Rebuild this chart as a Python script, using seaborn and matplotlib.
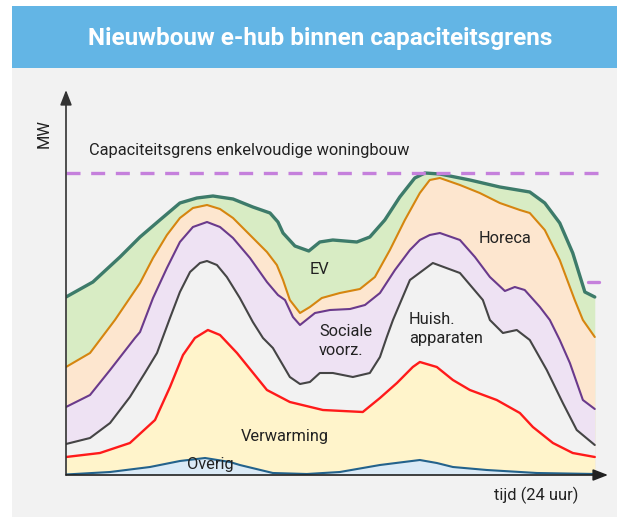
import matplotlib
matplotlib.use("Agg")
import matplotlib.pyplot as plt
import seaborn as sns
from matplotlib.patches import Rectangle

# curves are cumulative (top edge of every band), hours 0-24, arbitrary MW units
ev_x = [0, 1.22, 2.45, 3.36, 4.26, 5.17, 5.94, 6.67, 7.58, 8.48, 9.26, 9.62, 9.85, 10.39, 11.02, 11.52,
        12.11, 13.20, 13.79, 14.47, 15.15, 15.83, 16.29, 16.97, 18.33, 19.69, 21.05, 21.73, 22.41, 23.00,
        23.55, 24.0]
ev_y = [17.8, 19.3, 21.8, 23.8, 25.5, 27.2, 27.7, 27.9, 27.6, 26.8, 26.2, 25.3, 24.2, 22.9, 22.4, 23.3,
        23.5, 23.3, 23.8, 25.5, 27.8, 29.7, 30.2, 30.1, 29.5, 28.8, 28.3, 27.2, 25.2, 22.2,
        18.3, 17.8]

horeca_x = [0, 1.09, 2.22, 3.36, 3.95, 4.58, 5.17, 5.76, 6.40, 6.99, 7.58, 8.35, 9.12, 9.57, 9.85, 10.16,
            10.62, 11.07, 11.61, 12.43, 13.34, 14.02, 14.70, 15.38, 16.06, 16.51, 16.97, 17.88, 18.78,
            19.69, 20.60, 21.05, 21.73, 22.41, 23.09, 23.46, 24.0]
horeca_y = [10.8, 12.2, 15.5, 19.2, 21.7, 24.0, 25.7, 26.7, 27.0, 26.6, 25.7, 24.0, 22.3, 21.0, 19.5, 17.5,
            16.2, 16.8, 17.7, 18.2, 18.6, 19.8, 22.5, 25.5, 28.2, 29.5, 29.7, 29.0, 28.2,
            27.2, 26.5, 26.2, 24.5, 21.5, 17.5, 15.5, 13.8]

sociaal_x = [0, 1.09, 2.00, 3.13, 3.36, 3.95, 4.58, 5.17, 5.76, 6.40, 6.99, 7.58, 8.35, 9.12, 9.62, 9.94,
             10.30, 10.62, 11.30, 11.98, 12.89, 13.57, 14.25, 14.93, 15.61, 16.06, 16.51, 16.97, 17.88,
             18.56, 19.24, 19.92, 20.37, 20.82, 21.51, 21.96, 22.41, 22.87, 23.46, 24.0]
sociaal_y = [6.8, 8.0, 10.5, 13.7, 14.3, 17.7, 20.7, 23.3, 24.8, 25.3, 24.8, 23.7, 21.7, 19.3, 18.0, 17.5,
             15.8, 15.0, 16.2, 16.5, 16.6, 17.0, 18.2, 20.5, 22.5, 23.5, 24.0, 24.2, 23.5,
             21.8, 19.8, 18.4, 18.8, 18.5, 16.8, 15.5, 13.5, 11.2, 7.5, 6.6]

huish_x = [0, 1.09, 2.00, 2.90, 3.58, 4.13, 4.72, 5.17, 5.63, 6.08, 6.40, 6.85, 7.30, 7.89, 8.48, 8.94,
           9.39, 10.16, 10.62, 11.07, 11.52, 12.11, 13.02, 13.79, 14.25, 14.56, 14.84, 15.61, 16.65,
           17.88, 18.92, 19.24, 19.83, 20.46, 21.05, 21.82, 22.55, 23.18, 24.0]
huish_y = [3.1, 3.7, 5.2, 7.8, 10.2, 12.2, 15.7, 18.3, 20.3, 21.2, 21.4, 21.0, 19.8, 17.7, 15.3, 13.7,
           12.7, 9.8, 9.1, 9.3, 10.2, 10.2, 9.8, 10.2, 11.8, 13.8, 15.5, 19.5, 21.2,
           20.2, 17.5, 15.5, 14.2, 14.5, 13.5, 10.5, 7.2, 4.5, 3.0]

warmte_x = [0, 1.54, 2.90, 4.04, 4.72, 5.31, 5.85, 6.44, 6.99, 7.76, 9.12, 10.16, 11.66, 13.47, 14.25,
            15.02, 15.74, 16.06, 16.83, 17.56, 18.33, 19.55, 20.60, 21.19, 22.10, 23.00, 24.0]
warmte_y = [1.8, 2.2, 3.2, 5.5, 8.8, 12.0, 13.7, 14.5, 14.0, 12.2, 8.5, 7.3, 6.5, 6.3, 7.7,
            9.2, 10.8, 11.3, 10.8, 9.5, 8.5, 7.5, 6.2, 4.8, 3.2, 2.2, 1.8]

overig_x = [0, 2.00, 3.81, 5.17, 6.31, 7.44, 7.89, 9.39, 10.93, 12.43, 14.25, 16.06, 16.83, 17.56,
            19.10, 21.37, 24.0]
overig_y = [0.05, 0.3, 0.8, 1.4, 1.7, 1.3, 1.0, 0.2, 0.1, 0.3, 1.0, 1.5, 1.2, 0.8,
            0.5, 0.2, 0.1]

grens_x = [0, 24.5]
grens_y = [30.2, 30.2]
hub_x = [23.68, 24.18]
hub_y = [19.3, 19.3]

sns.set_style("white")
plt.rcParams['font.family'] = ['Roboto', 'DejaVu Sans']

BG = '#f2f2f2'
fig = plt.figure(figsize=(6.17, 5.17), dpi=100, facecolor='white')
fig.patches.append(Rectangle((12 / 617, 0), 1, 1 - 68 / 517, transform=fig.transFigure,
                             facecolor=BG, edgecolor='none', zorder=-5))
fig.patches.append(Rectangle((12 / 617, 1 - 68 / 517), 1, 62 / 517, transform=fig.transFigure,
                             facecolor='#63b5e5', edgecolor='none', zorder=-5))
fig.text(320 / 617, 1 - 38 / 517, 'Nieuwbouw e-hub binnen capaciteitsgrens', color='white',
         fontsize=17.5, fontweight='bold', ha='center', va='center')

ax = fig.add_axes([66 / 617, 42 / 517, 542 / 617, 385 / 517])
ax.set_zorder(2)
ax.patch.set_alpha(0)
ax.set_xlim(0, 24.6)
ax.set_ylim(0, 38.5)

layers = [
    (ev_x, ev_y, '#d8ecc4', '#3d7b6a', 2.4),
    (horeca_x, horeca_y, '#fde6cf', '#d6850f', 1.5),
    (sociaal_x, sociaal_y, '#eee2f3', '#6a3a8c', 1.5),
    (huish_x, huish_y, BG, '#454545', 1.5),
    (warmte_x, warmte_y, '#fff4cb', '#ff1a1a', 1.7),
    (overig_x, overig_y, '#dbeaf6', '#23628c', 1.5),
]
for x, y, fill, line, lw in layers:
    ax.fill_between(x, y, 0, color=fill, lw=0)
for x, y, fill, line, lw in layers:
    sns.lineplot(x=x, y=y, ax=ax, color=line, lw=lw, sort=False, estimator=None,
                 solid_joinstyle='round', solid_capstyle='round')

ax.plot(grens_x, grens_y, color='#c580dc', lw=2.4, dashes=(4.2, 3.2))
ax.plot(hub_x, hub_y, color='#c580dc', lw=2.4)

# axes with arrows
ax.annotate('', xy=(0, 38.5), xytext=(0, 0),
            arrowprops=dict(arrowstyle='-|>,head_length=0.9,head_width=0.35', color='#333333', lw=1.2,
                            shrinkA=0, shrinkB=0), annotation_clip=False)
ax.annotate('', xy=(24.6, 0), xytext=(0, 0),
            arrowprops=dict(arrowstyle='-|>,head_length=0.9,head_width=0.35', color='#222222', lw=1.2,
                            shrinkA=0, shrinkB=0), annotation_clip=False)
for s in ax.spines.values():
    s.set_visible(False)
ax.set_xticks([])
ax.set_yticks([])
ax.set_xlabel('')
ax.set_ylabel('')

txt = dict(color='#222222', fontsize=11.8, zorder=5)
fig.text(44 / 617, 1 - 134 / 517, 'MW', rotation=90, ha='center', va='center', **txt)
fig.text(89 / 617, 1 - 151 / 517, 'Capaciteitsgrens enkelvoudige woningbouw', ha='left', va='center', **txt)
fig.text(319 / 617, 1 - 269 / 517, 'EV', ha='center', va='center', **txt)
fig.text(505 / 617, 1 - 238 / 517, 'Horeca', ha='center', va='center', **txt)
fig.text(319 / 617, 1 - 341 / 517, 'Sociale\nvoorz.', ha='left', va='center', linespacing=1.3, **txt)
fig.text(409 / 617, 1 - 329 / 517, 'Huish.\napparaten', ha='left', va='center', linespacing=1.3, **txt)
fig.text(285 / 617, 1 - 437 / 517, 'Verwarming', ha='center', va='center', **txt)
fig.text(210 / 617, 1 - 465 / 517, 'Overig', ha='center', va='center', **txt)
fig.text(536 / 617, 1 - 495 / 517, 'tijd (24 uur)', ha='center', va='center', **txt)

fig.savefig('out.png', dpi=100)
